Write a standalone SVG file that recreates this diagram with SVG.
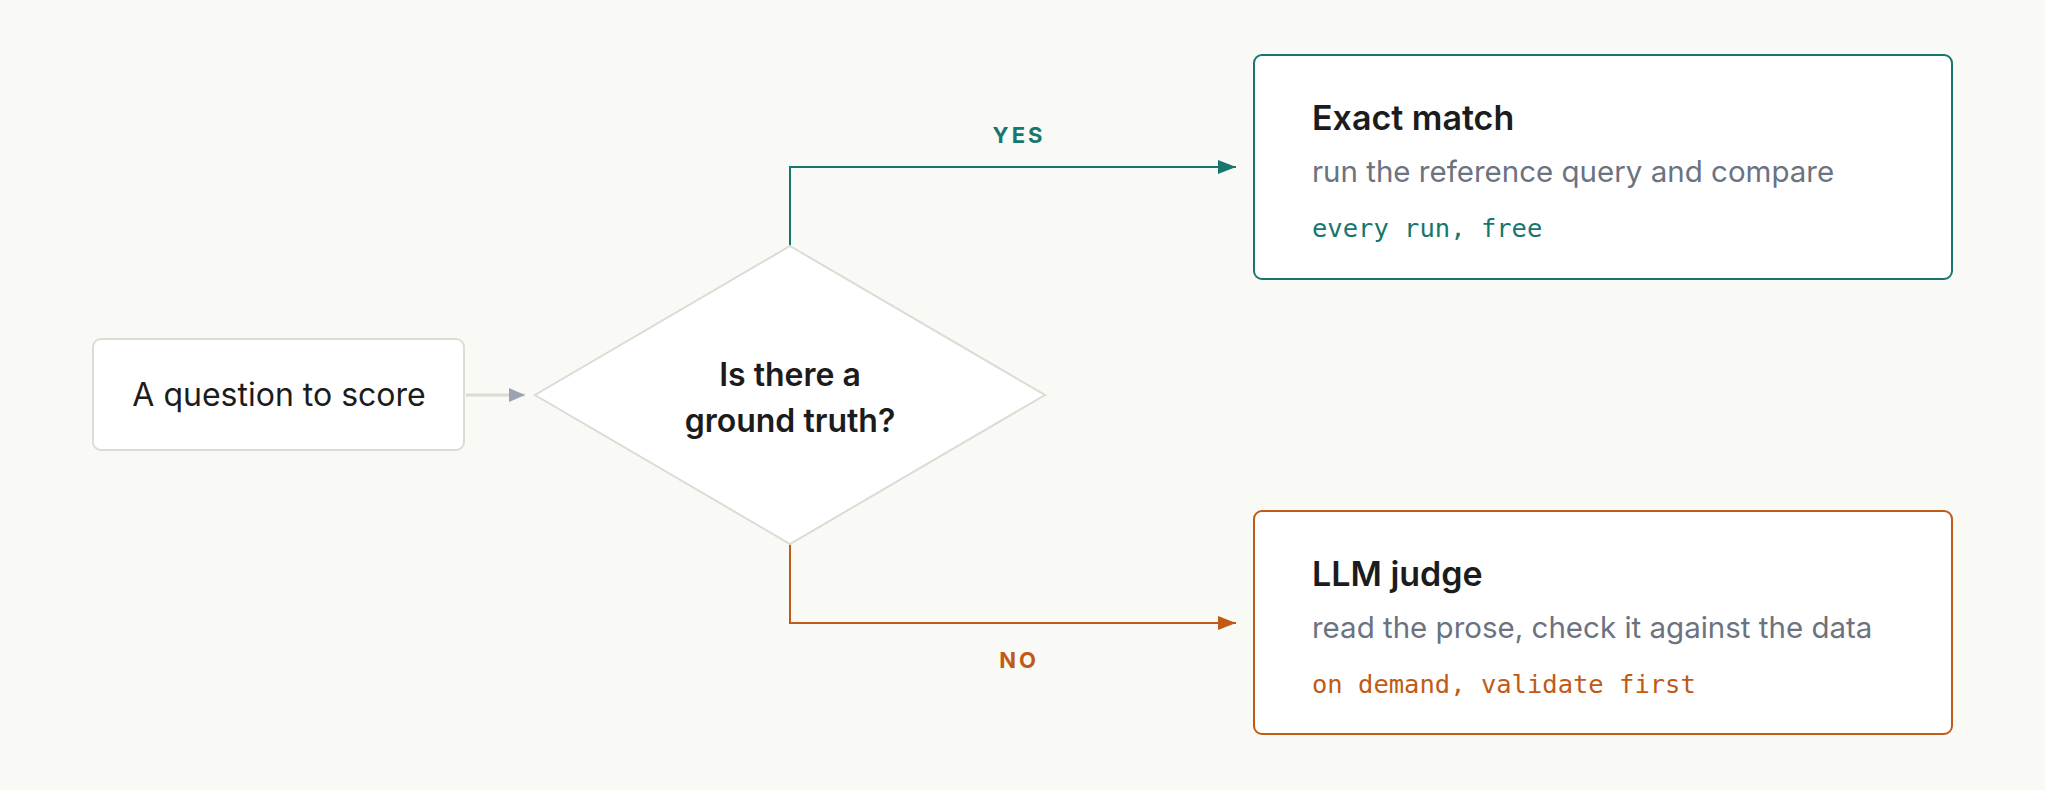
<svg xmlns="http://www.w3.org/2000/svg" width="2045" height="790" viewBox="0 0 2045 790">
<style>
.t{font-family:Inter,"Noto Sans",sans-serif}
.h{font-size:34px;font-weight:600;fill:#1c1c1c}
.s{font-size:29.5px;fill:#6b7280}
.m{font-family:"DejaVu Sans Mono","Liberation Mono",monospace;font-size:25.5px}
.lb{font-size:22px;font-weight:700;letter-spacing:3px;text-anchor:middle}
</style>
<defs>
<marker id="ag" markerWidth="16" markerHeight="14" refX="16" refY="7" orient="auto" markerUnits="userSpaceOnUse"><path d="M0,0L16,7L0,14z" fill="#9ca3af"/></marker>
<marker id="at" markerWidth="18" markerHeight="14" refX="18" refY="7" orient="auto" markerUnits="userSpaceOnUse"><path d="M0,0L18,7L0,14z" fill="#17766e"/></marker>
<marker id="ao" markerWidth="18" markerHeight="14" refX="18" refY="7" orient="auto" markerUnits="userSpaceOnUse"><path d="M0,0L18,7L0,14z" fill="#c05a14"/></marker>
</defs>
<rect width="2045" height="790" fill="#f9f9f5"/>
<g id="connectors" fill="none" stroke-width="2">
<path d="M466,395H525" stroke="#dcdcd6" stroke-width="3" marker-end="url(#ag)"/>
<path d="M790,246V167H1236" stroke="#17766e" marker-end="url(#at)"/>
<path d="M790,544V623H1236" stroke="#c05a14" marker-end="url(#ao)"/>
<text class="t lb" x="1019" y="143" fill="#17766e" stroke="none">YES</text>
<text class="t lb" x="1019" y="668" fill="#c05a14" stroke="none">NO</text>
</g>
<g id="question">
<rect x="93" y="339" width="371" height="111" rx="8" fill="#fff" stroke="#dcdcd6" stroke-width="2"/>
<text class="t" x="279" y="406" font-size="32" text-anchor="middle" fill="#1c1c1c">A question to score</text>
</g>
<g id="decision">
<path d="M790,246L1045,395L790,544L535,395z" fill="#fff" stroke="#dcdcd6" stroke-width="2"/>
<text class="t" x="790" y="386" font-size="32" font-weight="600" text-anchor="middle" fill="#1c1c1c">Is there a</text>
<text class="t" x="790" y="432" font-size="32" font-weight="600" text-anchor="middle" fill="#1c1c1c">ground truth?</text>
</g>
<g id="exact">
<rect x="1254" y="55" width="698" height="224" rx="8" fill="#fff" stroke="#17766e" stroke-width="2"/>
<text class="t h" x="1312" y="130">Exact match</text>
<text class="t s" x="1312" y="182">run the reference query and compare</text>
<text class="m" x="1312" y="237" fill="#17766e">every run, free</text>
</g>
<g id="judge">
<rect x="1254" y="511" width="698" height="223" rx="8" fill="#fff" stroke="#c05a14" stroke-width="2"/>
<text class="t h" x="1312" y="586">LLM judge</text>
<text class="t s" x="1312" y="638">read the prose, check it against the data</text>
<text class="m" x="1312" y="693" fill="#c05a14">on demand, validate first</text>
</g>
</svg>
